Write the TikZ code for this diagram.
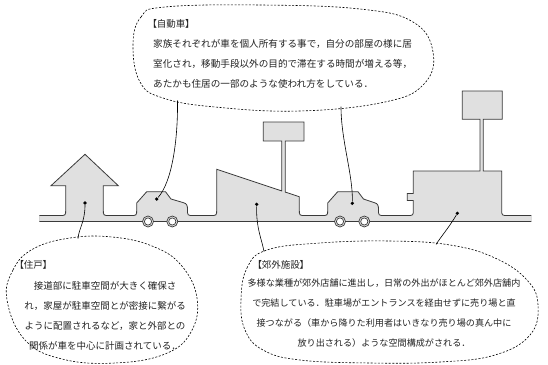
\documentclass[tikz,border=0pt]{standalone}
\usepackage{fontspec}
\newfontfamily\jpfont{Noto Sans CJK JP}
\newfontfamily\jpheadfont[RawFeature=+palt]{Noto Sans CJK JP}
\definecolor{bodygray}{HTML}{E0E0E0}
\definecolor{edgegray}{HTML}{3A3A3A}
\definecolor{inkgray}{HTML}{222222}
\tikzset{
  outline/.style={draw=edgegray, line width=0.8pt, line join=miter},
  wheel/.style={draw=edgegray, line width=0.7pt},
  callout/.style={dash pattern=on 2pt off 1.6pt, line width=0.6pt},
  leader/.style={line width=0.6pt},
  dot/.style={circle, fill=black, inner sep=0pt, minimum size=3.6pt},
  note/.style={font=\jpfont\fontsize{#1}{20pt}\selectfont, text=inkgray, inner sep=0pt},
  note/.default=9.5pt,
  head/.style={font=\jpheadfont\fontsize{9.5pt}{20pt}\selectfont, text=inkgray, inner sep=0pt, anchor=west},
}

\begin{document}
\begin{tikzpicture}[x=1pt, y=-1pt]
	\useasboundingbox (0,0) rectangle (548,364);

	% street with house, cars, roadside shop and store
	\begin{scope}
		\clip (39.4,0) rectangle (531.3,364);
		\filldraw[outline, fill=bodygray]
			(39,215.5) -- (59.7,215.5) .. controls (65.7,215.5) .. (65.7,209.5)
			-- (65.7,185.7) -- (51,185.7) -- (85,154.3) -- (118.3,185.7) -- (103.3,185.7)
			-- (103.3,209.5) .. controls (103.3,215.5) .. (109.3,215.5)
			-- (130.7,215.5) .. controls (136.7,215.5) .. (136.7,209.5)
			-- (136.7,203) -- (146.7,191.7) -- (165.5,191.7) -- (171,199) -- (183.5,202.7)
			.. controls (187,203.5) and (187.5,206) .. (187.5,209.5)
			.. controls (187.5,215.5) .. (193.5,215.5)
			-- (210.7,215.5) .. controls (216.7,215.5) .. (216.7,209.5)
			-- (216.7,169.3) -- (281.7,190.9) -- (281.7,141) -- (263.3,141) -- (263.3,122)
			-- (304,122) -- (304,141) -- (285.3,141) -- (285.3,192.1) -- (299.3,196.7)
			-- (299.3,209.5) .. controls (299.3,215.5) .. (305.3,215.5)
			-- (321.7,215.5) .. controls (327.7,215.5) .. (327.7,209.5)
			-- (327.7,203) -- (337.7,191.7) -- (358,191.7) -- (363.5,199) -- (374.5,202.7)
			.. controls (378,203.5) and (378.5,206) .. (378.5,209.5)
			.. controls (378.5,215.5) .. (384.5,215.5)
			-- (407.3,215.5) .. controls (413.3,215.5) .. (413.3,209.5)
			-- (413.3,200.5) -- (407.3,200.5) -- (407.3,193.5) -- (413.3,193.5) -- (413.3,171)
			-- (480,171) -- (480,119.3) -- (462.3,119.3) -- (462.3,91) -- (502.3,91)
			-- (502.3,119.3) -- (483.3,119.3) -- (483.3,171) -- (501.7,171)
			-- (501.7,209.5) .. controls (501.7,215.5) .. (507.7,215.5)
			-- (531.7,215.5) -- (531.7,221.5) -- (39,221.5) -- cycle;
	\end{scope}
	\foreach \x in {148,172.3,340,364.3} {
		\filldraw[wheel, fill=bodygray] (\x,221.5) circle[radius=5.5pt];
		\filldraw[wheel, fill=white] (\x,221.5) circle[radius=3.6pt];
	}

	\node[dot] (houseDot) at (85,203) {};
	\node[dot] (carDotA) at (156.7,199) {};
	\node[dot] (shopDot) at (256.7,204.3) {};
	\node[dot] (carDotB) at (352.3,203.3) {};
	\node[dot] (storeDot) at (457.3,213.3) {};

	% balloons
	\draw[callout] plot[smooth cycle, tension=0.7] coordinates {(133,45) (141,17) (165,7) (260,5) (360,9) (413,22) (433,52) (424,84) (385,102) (300,111) (215,107) (163,98) (140,82)};
	\draw[callout] plot[smooth cycle, tension=0.7] coordinates {(7,300) (13,270) (33,249) (70,238) (112,237) (152,246) (181,265) (197,298) (191,332) (165,354) (115,363) (62,359) (25,340)};
	\draw[callout] plot[smooth cycle, tension=0.7] coordinates {(241,300) (247,268) (267,250) (320,243) (390,241) (450,245) (495,258) (527,280) (538,305) (530,335) (495,355) (440,362) (370,363) (300,360) (263,350) (245,330)};

	\coordinate (carTipA) at (177.5,100.5);
	\coordinate (carTipB) at (341,106.7);
	\coordinate (houseTip) at (78,238.5);
	\coordinate (shopTip) at (264,251.5);
	\coordinate (storeTip) at (436,244.5);

	\draw[leader] (carDotA) .. controls (172,182) and (178,140) .. (carTipA);
	\draw[leader] (carDotB) .. controls (353,175) and (341,140) .. (carTipB);
	\draw[leader] (houseDot) .. controls (85,222) and (79,228) .. (houseTip);
	\draw[leader] (shopDot) .. controls (256,228) and (262,240) .. (shopTip);
	\draw[leader] (storeDot) .. controls (450,226) and (440,238) .. (storeTip);

	% texts
	\node[head] (carHead) at (152,24) {【自動車】};
	\node[note=9.6pt, anchor=west, align=left] (carText) at (153,64)
		{家族それぞれが車を個人所有する事で，自分の部屋の様に居\\
		室化され，移動手段以外の目的で滞在する時間が増える等，\\
		あたかも住居の一部のような使われ方をしている．};
	\node[head] (homeHead) at (19,264.5) {【住戸】};
	\node[note, align=center] (homeText) at (105,315.5)
		{接道部に駐車空間が大きく確保さ\\
		れ，家屋が駐車空間とが密接に繋がる\\
		ように配置されるなど，家と外部との\\
		関係が車を中心に計画されている．};
	\node[head] (shopHead) at (257,265) {【郊外施設】};
	\node[note=9.1pt, align=center] (shopText) at (384,313.5)
		{多様な業種が郊外店舗に進出し，日常の外出がほとんど郊外店舗内\\
		で完結している．駐車場がエントランスを経由せずに売り場と直\\
		接つながる（車から降りた利用者はいきなり売り場の真ん中に\\
		放り出される）ような空間構成がされる．};
\end{tikzpicture}
\end{document}
